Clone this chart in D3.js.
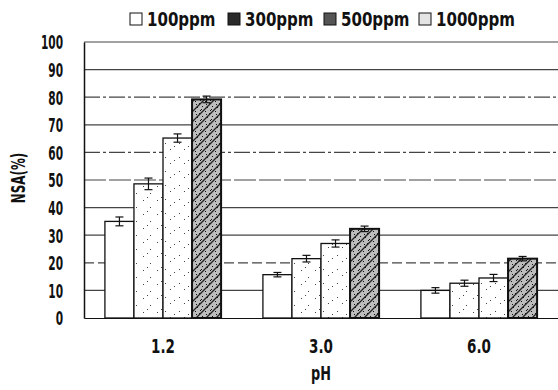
<!DOCTYPE html>
<html>
<head>
<meta charset="utf-8">
<script src="https://cdn.jsdelivr.net/npm/d3@7"></script>
<style>
  body { margin: 0; background: #fff; }
  text { font-family: "DejaVu Sans", sans-serif; font-stretch: condensed; font-weight: bold; fill: #111; }
</style>
</head>
<body>
<div id="chart"></div>
<script>
const categories = ["1.2", "3.0", "6.0"];
const series = ["100ppm", "300ppm", "500ppm", "1000ppm"];
const values = [
  [35.0, 48.6, 65.2, 79.2],
  [15.7, 21.5, 27.0, 32.3],
  [10.0, 12.6, 14.5, 21.5]
];
const errors = [
  [1.6, 2.1, 1.5, 1.2],
  [0.8, 1.2, 1.3, 1.0],
  [1.0, 1.1, 1.3, 0.8]
];
const yTicks = [0, 10, 20, 30, 40, 50, 60, 70, 80, 90, 100];

const width = 558, height = 390;
const margin = { top: 42, right: 0, bottom: 72, left: 84 };

const svg = d3.select("#chart").append("svg")
  .attr("width", width).attr("height", height);

const defs = svg.append("defs");
function dots(id, pts, bg) {
  const p = defs.append("pattern").attr("id", id).attr("patternUnits", "userSpaceOnUse")
    .attr("width", 14).attr("height", 14);
  p.append("rect").attr("width", 14).attr("height", 14).attr("fill", bg);
  pts.forEach(d => p.append("rect").attr("x", d[0]).attr("y", d[1]).attr("width", 1).attr("height", 1).attr("fill", "#444"));
}
dots("p300", [[3, 4], [10, 11], [7, 1]], "#fff");
dots("p500", [[2, 9], [11, 3], [6, 6]], "#fff");
const ph = defs.append("pattern").attr("id", "p1000").attr("patternUnits", "userSpaceOnUse")
  .attr("width", 10).attr("height", 10);
ph.append("rect").attr("width", 10).attr("height", 10).attr("fill", "#bdbdbd");
[[1, 1], [5, 3], [3, 7], [8, 6], [7, 9], [2, 4], [6, 0]].forEach(d =>
  ph.append("rect").attr("x", d[0]).attr("y", d[1]).attr("width", 1).attr("height", 1).attr("fill", "#111"));
ph.append("path").attr("d", "M-1,11 L11,-1 M-1,1 L1,-1 M9,11 L11,9").attr("stroke", "#222").attr("stroke-width", 1.3);

const fills = ["#fff", "url(#p300)", "url(#p500)", "url(#p1000)"];
const legendFills = ["#fff", "#2a2a2a", "#555", "#e4e4e4"];

const x0 = d3.scaleBand().domain(categories).range([margin.left, width - margin.right]);
const x1 = d3.scaleBand().domain(series).range([0, x0.bandwidth()]).paddingOuter(0.72);
const y = d3.scaleLinear().domain([0, 100]).range([height - margin.bottom, margin.top]);

// gridlines
const dashes = { 80: "16,3,3,3", 60: "16,3,3,3", 50: "22,3", 20: "10,4" };
svg.append("g").selectAll("line").data(yTicks.filter(d => d > 0)).join("line")
  .attr("x1", margin.left).attr("x2", width)
  .attr("y1", d => y(d)).attr("y2", d => y(d))
  .attr("stroke", "#444").attr("stroke-width", 1.2)
  .attr("stroke-dasharray", d => dashes[d] || null);

// bars
const groups = svg.append("g").selectAll("g").data(categories).join("g")
  .attr("transform", c => `translate(${x0(c)},0)`);
const cells = (c, i) => values[i].map((v, j) => ({ v, j, e: errors[i][j] }));
groups.selectAll("rect").data(cells).join("rect")
  .attr("x", d => x1(series[d.j]))
  .attr("y", d => y(d.v))
  .attr("width", x1.bandwidth())
  .attr("height", d => y(0) - y(d.v))
  .attr("fill", d => fills[d.j])
  .attr("stroke", "#111").attr("stroke-width", d => d.j === 3 ? 2 : 1.3);

// error bars
const eb = groups.selectAll("g.err").data(cells).join("g").attr("class", "err")
  .attr("transform", d => `translate(${x1(series[d.j]) + x1.bandwidth() / 2},0)`)
  .attr("stroke", "#111").attr("stroke-width", 1.2);
eb.append("line").attr("y1", d => y(d.v + d.e)).attr("y2", d => y(d.v - d.e));
eb.append("line").attr("x1", -4).attr("x2", 4).attr("y1", d => y(d.v + d.e)).attr("y2", d => y(d.v + d.e));
eb.append("line").attr("x1", -4).attr("x2", 4).attr("y1", d => y(d.v - d.e)).attr("y2", d => y(d.v - d.e));

// squeeze text horizontally around its own x
function squeeze(sel, sx) {
  sel.each(function() {
    const t = d3.select(this);
    const x = +t.attr("x") || 0;
    t.attr("x", x / sx).attr("transform", `scale(${sx},1)`);
  });
}

// axes
svg.append("g").attr("transform", `translate(${margin.left},0)`)
  .call(d3.axisLeft(y).tickValues(yTicks).tickSize(0).tickPadding(21))
  .call(g => g.select(".domain").attr("stroke", "#111").attr("stroke-width", 1.5))
  .call(g => g.selectAll("text").attr("font-size", 19).attr("fill", "#111").attr("dy", "0.36em").call(squeeze, 0.62));
svg.append("g").attr("transform", `translate(0,${height - margin.bottom})`)
  .call(d3.axisBottom(x0).tickSize(0).tickPadding(21))
  .call(g => g.select(".domain").attr("stroke", "#111").attr("stroke-width", 1.2))
  .call(g => g.selectAll("text").attr("font-size", 20).attr("fill", "#111").call(squeeze, 0.75));

svg.append("text").attr("x", 321).attr("y", 380).attr("text-anchor", "middle")
  .attr("font-size", 19).text("pH").call(squeeze, 0.75);
svg.append("g").attr("transform", "translate(25,178) rotate(-90)")
  .append("text").attr("x", 0).attr("text-anchor", "middle")
  .attr("font-size", 20).text("NSA(%)").call(squeeze, 0.66);

// legend
const lx = [130, 228, 324, 419];
const lg = svg.append("g").selectAll("g").data(series).join("g")
  .attr("transform", (d, i) => `translate(${lx[i]},13)`);
lg.append("rect").attr("width", 12).attr("height", 12).attr("fill", (d, i) => legendFills[i])
  .attr("stroke", "#111").attr("stroke-width", 1);
lg.append("text").attr("x", 17).attr("y", 13).attr("font-size", 19).text(d => d).call(squeeze, 0.88);
</script>
</body>
</html>
